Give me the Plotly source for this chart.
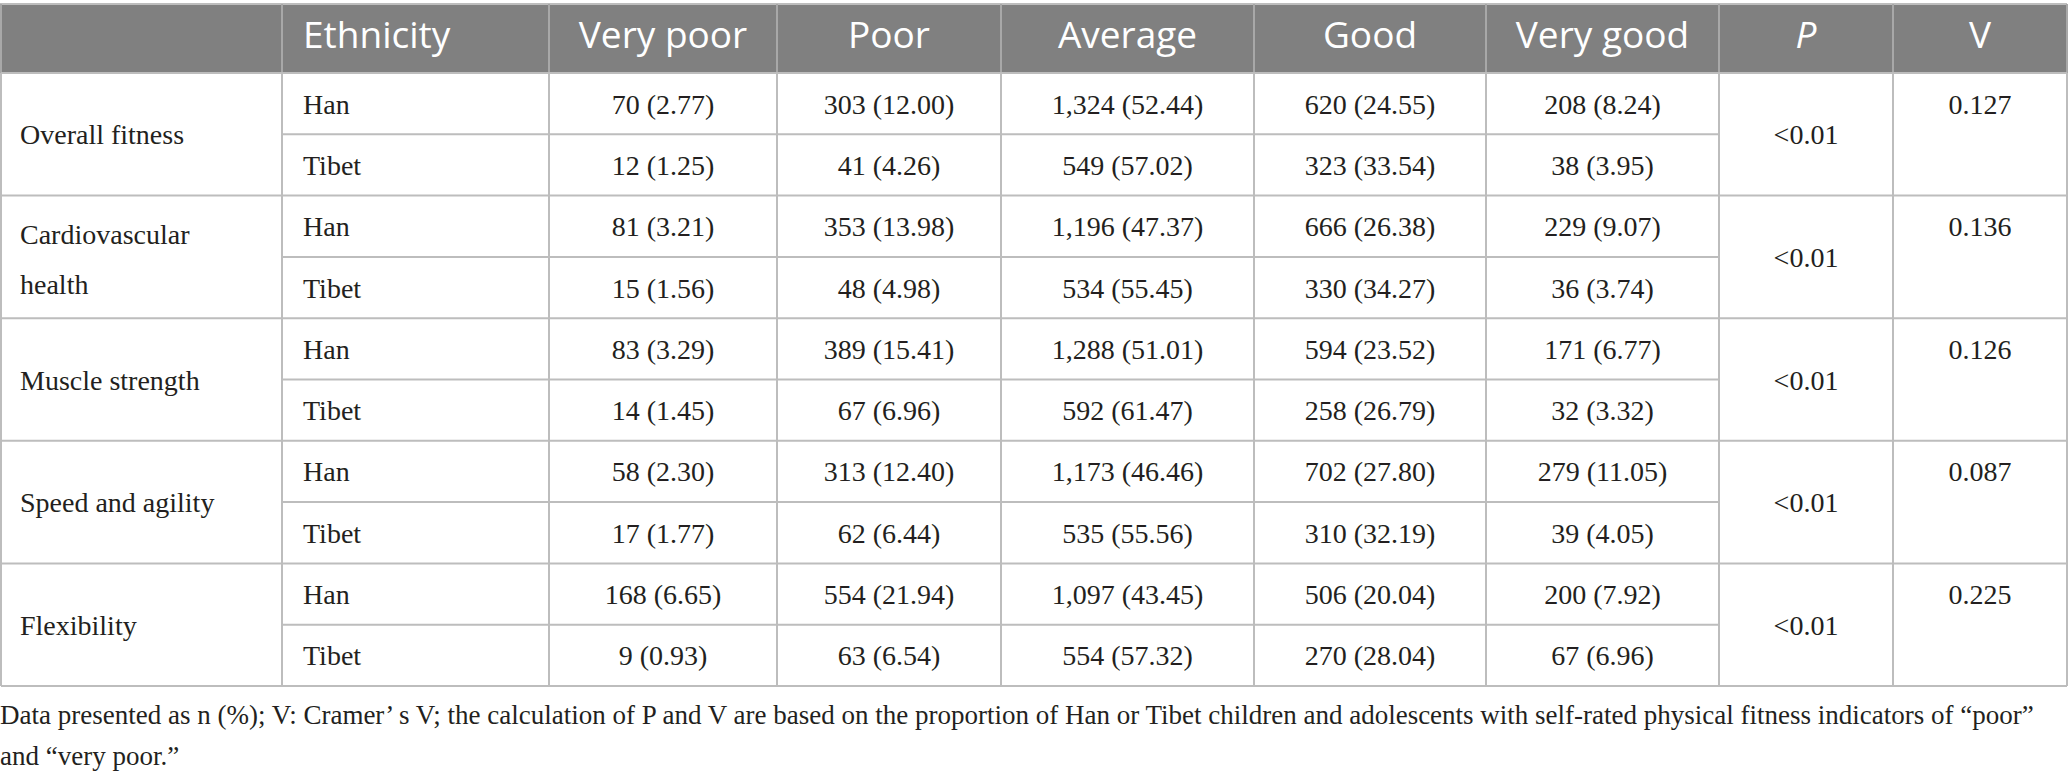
import plotly.graph_objects as go

# table content
indicators = [["Overall fitness"], ["Cardiovascular", "health"], ["Muscle strength"],
              ["Speed and agility"], ["Flexibility"]]
ethnicity = ["Han", "Tibet"]
levels = ["Very poor", "Poor", "Average", "Good", "Very good"]

han_n = [[70, 303, 1324, 620, 208], [81, 353, 1196, 666, 229], [83, 389, 1288, 594, 171],
         [58, 313, 1173, 702, 279], [168, 554, 1097, 506, 200]]
han_pct = [[2.77, 12.00, 52.44, 24.55, 8.24], [3.21, 13.98, 47.37, 26.38, 9.07],
           [3.29, 15.41, 51.01, 23.52, 6.77], [2.30, 12.40, 46.46, 27.80, 11.05],
           [6.65, 21.94, 43.45, 20.04, 7.92]]
tibet_n = [[12, 41, 549, 323, 38], [15, 48, 534, 330, 36], [14, 67, 592, 258, 32],
           [17, 62, 535, 310, 39], [9, 63, 554, 270, 67]]
tibet_pct = [[1.25, 4.26, 57.02, 33.54, 3.95], [1.56, 4.98, 55.45, 34.27, 3.74],
             [1.45, 6.96, 61.47, 26.79, 3.32], [1.77, 6.44, 55.56, 32.19, 4.05],
             [0.93, 6.54, 57.32, 28.04, 6.96]]
p_values = ["<0.01", "<0.01", "<0.01", "<0.01", "<0.01"]
v_values = [0.127, 0.136, 0.126, 0.087, 0.225]

footnote = ["Data presented as n (%); V: Cramer\u2019 s V; the calculation of P and V are based on the "
            "proportion of Han or Tibet children and adolescents with self-rated physical fitness "
            "indicators of \u201cpoor\u201d",
            "and \u201cvery poor.\u201d"]

# geometry (pixels)
W, H = 2068, 776
col_edges = [1, 282, 549, 777, 1001, 1254, 1486, 1719, 1893, 2067]
head_top, head_bot, row_h = 4, 73, 61.3
pad = 21
dy = 3  # small nudge so serif text sits like the original
serif = "Liberation Serif"
sans = "Open Sans"
ink = "#231f20"
grid = "#bdbdbd"

n_rows = len(indicators) * 2
row_edges = [head_bot + i * row_h for i in range(n_rows + 1)]
centers = [(col_edges[i] + col_edges[i + 1]) / 2 for i in range(len(col_edges) - 1)]

fig = go.Figure()

# header text
head_font = dict(family=sans, size=37, color="white")
fig.add_trace(go.Scatter(x=[col_edges[1] + pad], y=[(head_top + head_bot) / 2], text=["Ethnicity"],
                         mode="text", textposition="middle right", textfont=head_font))
fig.add_trace(go.Scatter(x=centers[2:], y=[(head_top + head_bot) / 2] * 7,
                         text=levels + ["<i>P</i>", "V"], mode="text", textposition="middle center",
                         textfont=head_font))

# body text
lx, ly, lt = [], [], []
ex, ey, et = [], [], []
cx, cy, ct = [], [], []
for g, lines in enumerate(indicators):
    top = row_edges[2 * g]
    mid = row_edges[2 * g + 1]
    if len(lines) == 1:
        lx.append(col_edges[0] + pad - 2); ly.append(mid + dy); lt.append(lines[0])
    else:
        for k, line in enumerate(lines):
            lx.append(col_edges[0] + pad - 2); ly.append(mid + dy + 2 + (k - 0.5) * 2 * 25); lt.append(line)
    for r, (ns, ps) in enumerate([(han_n[g], han_pct[g]), (tibet_n[g], tibet_pct[g])]):
        yc = top + (r + 0.5) * row_h + dy
        ex.append(col_edges[1] + pad); ey.append(yc); et.append(ethnicity[r])
        for j in range(len(levels)):
            cx.append(centers[2 + j]); cy.append(yc); ct.append(f"{ns[j]:,} ({ps[j]:.2f})")
    cx.append(centers[7]); cy.append(mid + dy); ct.append(p_values[g])
    cx.append(centers[8]); cy.append(top + row_h / 2 + dy); ct.append(f"{v_values[g]:.3f}")

body_font = dict(family=serif, size=28, color=ink)
fig.add_trace(go.Scatter(x=lx, y=ly, text=lt, mode="text", textposition="middle right", textfont=body_font))
fig.add_trace(go.Scatter(x=ex, y=ey, text=et, mode="text", textposition="middle right", textfont=body_font))
fig.add_trace(go.Scatter(x=cx, y=cy, text=ct, mode="text", textposition="middle center", textfont=body_font))

# footnote
fig.add_trace(go.Scatter(x=[0, 0], y=[717, 758], text=footnote, mode="text", textposition="middle right",
                         textfont=dict(family=serif, size=27, color=ink)))

# header background and cell lines
shapes = [dict(type="rect", x0=0, x1=W - 1, y0=head_top, y1=head_bot, fillcolor="#808080",
               line=dict(width=0), layer="below")]
shapes.append(dict(type="line", x0=0, x1=W - 1, y0=head_top, y1=head_top, line=dict(color=grid, width=2)))
for xe in col_edges:
    shapes.append(dict(type="line", x0=xe, x1=xe, y0=head_top, y1=head_bot, line=dict(color="#a8a8a8", width=2)))
    shapes.append(dict(type="line", x0=xe, x1=xe, y0=head_bot, y1=row_edges[-1], line=dict(color=grid, width=2)))
for i, ye in enumerate(row_edges):
    if i % 2 == 0:
        shapes.append(dict(type="line", x0=col_edges[0], x1=col_edges[-1], y0=ye, y1=ye,
                           line=dict(color=grid, width=2)))
    else:
        shapes.append(dict(type="line", x0=col_edges[1], x1=col_edges[7], y0=ye, y1=ye,
                           line=dict(color=grid, width=2)))

fig.update_layout(
    width=W, height=H, margin=dict(l=0, r=0, t=0, b=0),
    paper_bgcolor="white", plot_bgcolor="white", showlegend=False,
    xaxis=dict(range=[0, W], visible=False, fixedrange=True),
    yaxis=dict(range=[H, 0], visible=False, fixedrange=True),
    shapes=shapes,
)

fig.write_html("out.html", config={"displayModeBar": False},
               post_script="document.body.style.margin = '0';")
